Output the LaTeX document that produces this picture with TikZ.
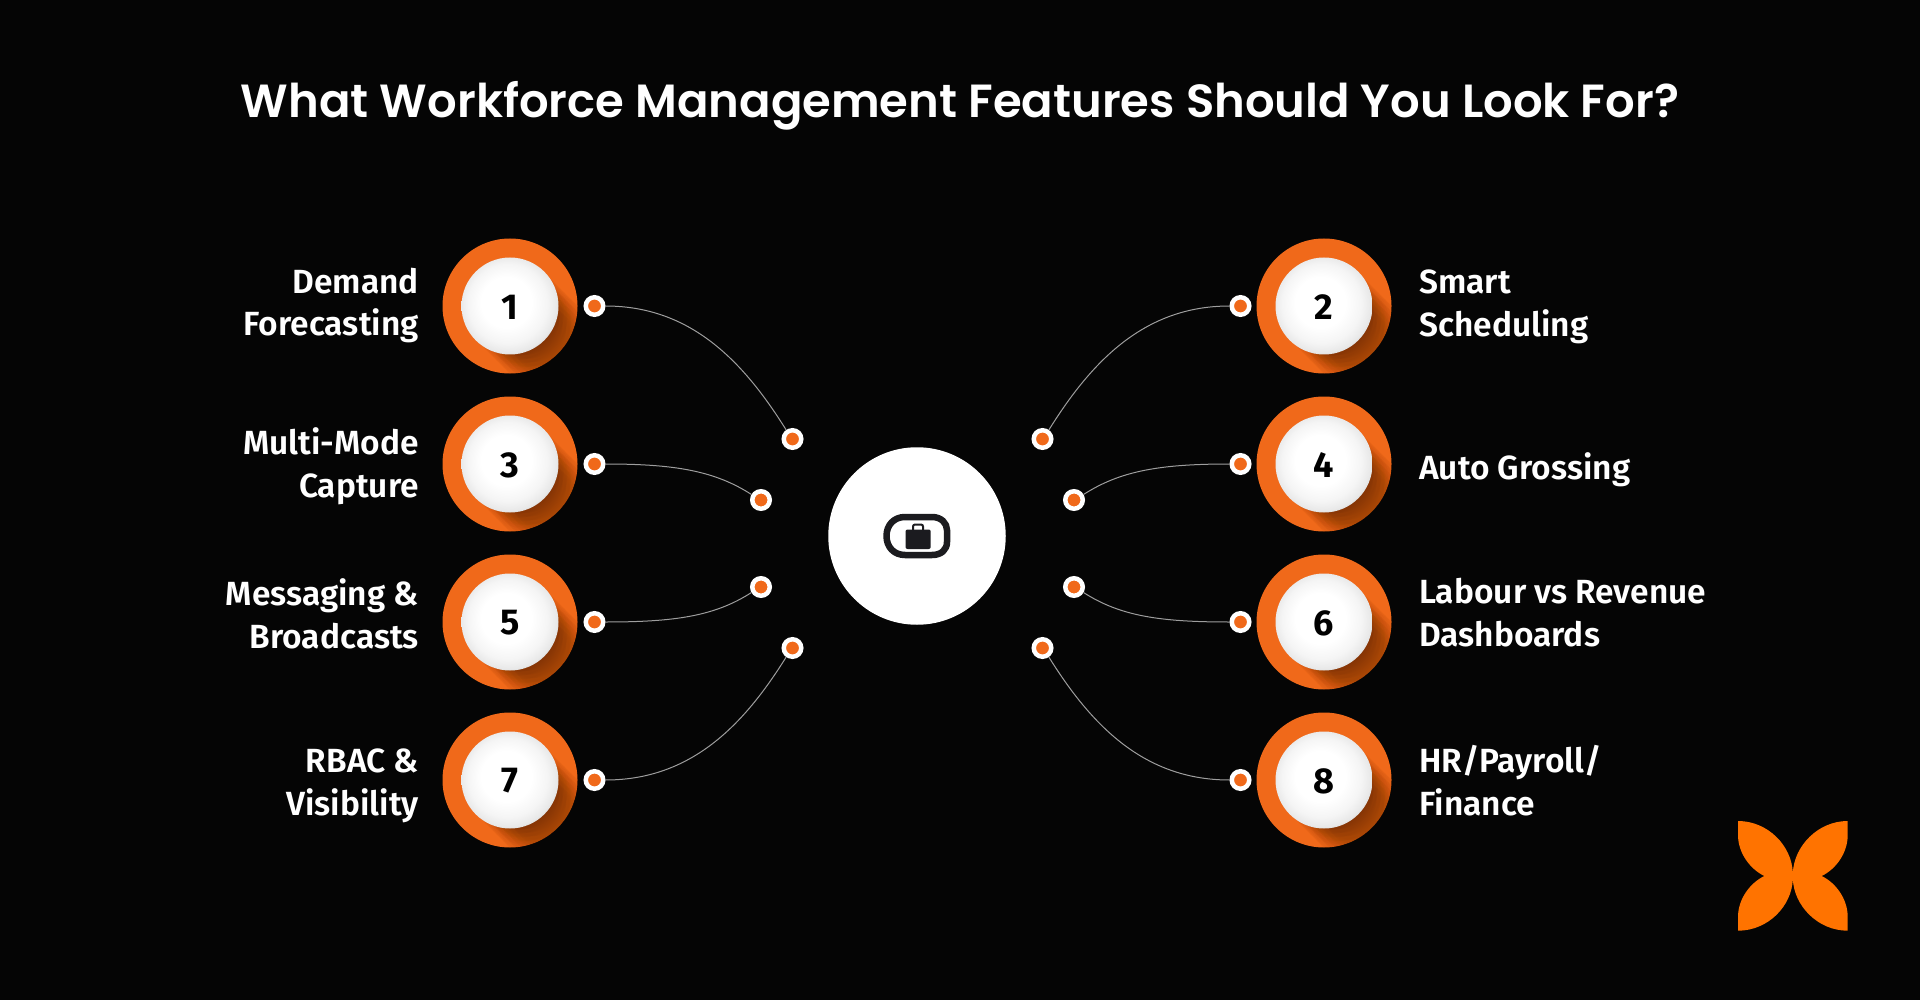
\documentclass[tikz,border=0pt]{standalone}
\usepackage{fontspec}
\setmainfont{Fira Sans}
\newfontfamily\titlefont{Poppins SemiBold}
\newfontfamily\labelfont{Fira Sans SemiBold}
\newfontfamily\numfont{Fira Sans Bold}
\usetikzlibrary{calc}
\definecolor{bgc}{HTML}{050505}
\definecolor{disc}{HTML}{F0691A}
\definecolor{logoc}{HTML}{FF7300}
\definecolor{iconc}{HTML}{1B1B1F}
\pgfdeclareradialshading{ballshade}{\pgfpoint{-3bp}{3bp}}{color(0bp)=(white);color(13bp)=(white);color(20.5bp)=(black!4);color(25bp)=(black!9);color(29bp)=(black!26);color(35bp)=(black!40)}
\tikzset{
 x=1pt,y=-1pt,
 dotnode/.style={circle,draw=white,line width=4.5pt,fill=disc,minimum size=17.5pt,inner sep=0pt},
 link/.style={draw=white!62!black,line width=1pt},
 lab/.style={text=white,font=\labelfont\fontsize{33.5}{43}\selectfont,inner sep=0pt},
 numl/.style={text=black,font=\numfont\fontsize{36}{36}\selectfont,inner sep=0pt},
}
\newcommand{\ballunit}[3]{%
 \fill[disc] (#1,#2) circle[radius=67.5];
 \begin{scope}
  \clip (#1,#2) circle[radius=67.5];
  \foreach \k in {2,5,...,29}{
   \foreach \r in {48,44,40,36,32}{
    \fill[black!80!disc,opacity=.015] (#1+\k*1.2,#2+\k*1.2) circle[radius=\r];}}
 \end{scope}
 \shade[shading=ballshade] (#1,#2) circle[radius=48.5];
 \node[numl] (n#3) at (#1,#2+1) {#3};
}
\begin{document}
\begin{tikzpicture}
\fill[bgc] (0,0) rectangle (1920,1000);
\useasboundingbox (0,0) rectangle (1920,1000);
\node[anchor=base,text=white,font=\titlefont\fontsize{46.5}{46.5}\selectfont,inner sep=0pt] (title) at (960,118) {What Workforce Management Features Should You Look For?};
\ballunit{510}{306}{1}
\ballunit{510}{464}{3}
\ballunit{510}{622}{5}
\ballunit{510}{780}{7}
\ballunit{1324}{306}{2}
\ballunit{1324}{464}{4}
\ballunit{1324}{622}{6}
\ballunit{1324}{780}{8}
% dots
\node[dotnode] (a1) at (594.5,306) {};
\node[dotnode] (a3) at (594.5,464) {};
\node[dotnode] (a5) at (594.5,622) {};
\node[dotnode] (a7) at (594.5,780) {};
\node[dotnode] (b1) at (792.5,439) {};
\node[dotnode] (b3) at (761,500) {};
\node[dotnode] (b5) at (761,587) {};
\node[dotnode] (b7) at (792.5,648) {};
\node[dotnode] (a2) at (1240.5,306) {};
\node[dotnode] (a4) at (1240.5,464) {};
\node[dotnode] (a6) at (1240.5,622) {};
\node[dotnode] (a8) at (1240.5,780) {};
\node[dotnode] (b2) at (1042.5,439) {};
\node[dotnode] (b4) at (1074,500) {};
\node[dotnode] (b6) at (1074,587) {};
\node[dotnode] (b8) at (1042.5,648) {};
% connectors
\draw[link] (a1.east) .. controls ($(a1.east)+(85,0)$) and ($(b1.125)+(-43,-69)$) .. (b1.125);
\draw[link] (a3.east) .. controls ($(a3.east)+(70,0)$) and ($(b3.150)+(-36.5,-23.5)$) .. (b3.150);
\draw[link] (a5.east) .. controls ($(a5.east)+(70,0)$) and ($(b5.210)+(-36.5,23.5)$) .. (b5.210);
\draw[link] (a7.east) .. controls ($(a7.east)+(85,0)$) and ($(b7.235)+(-43,69)$) .. (b7.235);
\draw[link] (a2.west) .. controls ($(a2.west)+(-85,0)$) and ($(b2.55)+(43,-69)$) .. (b2.55);
\draw[link] (a4.west) .. controls ($(a4.west)+(-70,0)$) and ($(b4.30)+(36.5,-23.5)$) .. (b4.30);
\draw[link] (a6.west) .. controls ($(a6.west)+(-70,0)$) and ($(b6.330)+(36.5,23.5)$) .. (b6.330);
\draw[link] (a8.west) .. controls ($(a8.west)+(-85,0)$) and ($(b8.305)+(43,69)$) .. (b8.305);
% centre
\node[circle,fill=white,minimum size=177.5pt,inner sep=0pt] (hub) at (917,536) {};
\draw[iconc,line width=6.5pt,line join=round] (905,517) -- (932,517) .. controls (941,517) and (947,523) .. (947,530) -- (947,542) .. controls (947,550) and (941,555) .. (932,555) -- (905,555) .. controls (894,555) and (886.5,547) .. (886.5,536) .. controls (886.5,525) and (894,517) .. (905,517) -- cycle;
\fill[iconc,rounded corners=2pt] (905.5,529.5) rectangle (930.7,549);
\draw[iconc,line width=2pt,rounded corners=2pt] (913,531) -- (913,524.5) -- (923,524.5) -- (923,531);
% labels: a multi-line node's base is its last line
\node[lab,anchor=base east,align=right] (t1) at (419,336) {Demand\\Forecasting};
\node[lab,anchor=base east,align=right] (t3) at (419,497) {Multi-Mode\\Capture};
\node[lab,anchor=base east,align=right] (t5) at (419,648) {Messaging \&\\Broadcasts};
\node[lab,anchor=base east,align=right] (t7) at (419,815) {RBAC \&\\Visibility};
\node[lab,anchor=base west,align=left] (t2) at (1419,337) {Smart\\Scheduling};
\node[lab,anchor=base west,align=left] (t4) at (1419,479) {Auto Grossing};
\node[lab,anchor=base west,align=left] (t6) at (1419,646) {Labour vs Revenue\\Dashboards};
\node[lab,anchor=base west,align=left] (t8) at (1419,815) {HR/Payroll/\\Finance};
% logo
\fill[logoc] (1738,821) .. controls (1768,821) and (1792,846) .. (1792.8,873)
 .. controls (1794,846) and (1818,821) .. (1847.7,821)
 -- (1847.7,835) .. controls (1847.7,853) and (1836,869) .. (1821.7,876)
 .. controls (1836,883) and (1847.7,899) .. (1847.7,917) -- (1847.7,930.7)
 .. controls (1818,930.7) and (1794,906) .. (1792.8,879)
 .. controls (1792,906) and (1768,930.7) .. (1738,930.7)
 -- (1738,917) .. controls (1738,899) and (1750,883) .. (1764.3,876)
 .. controls (1750,869) and (1738,853) .. (1738,835) -- cycle;
\end{tikzpicture}
\end{document}
